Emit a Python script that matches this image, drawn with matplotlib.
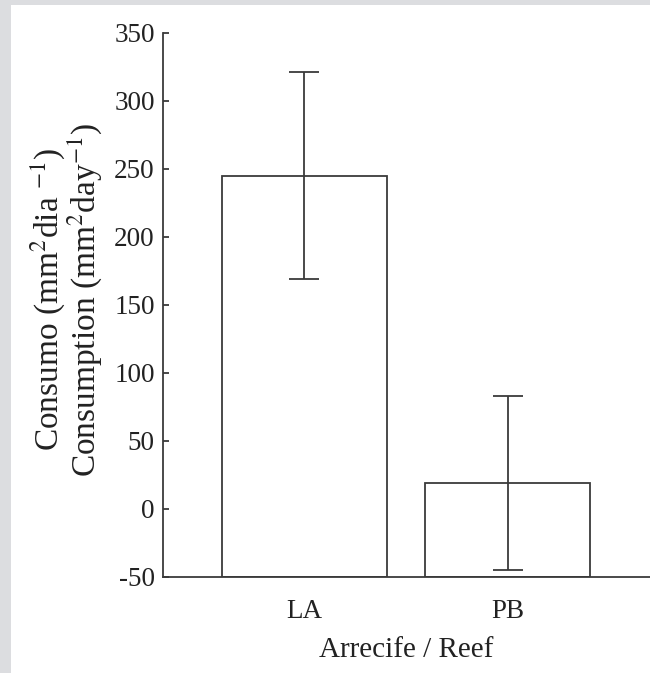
import matplotlib
matplotlib.use('Agg')
import matplotlib.pyplot as plt
from matplotlib.patches import Rectangle

# data
reefs = ['LA', 'PB']
consumption = [245, 19]
errors = [76, 64]
yticks = [-50, 0, 50, 100, 150, 200, 250, 300, 350]

plt.rcParams['font.family'] = ['Liberation Serif', 'DejaVu Serif']
plt.rcParams['mathtext.fontset'] = 'stix'

W, H = 650, 673
fig = plt.figure(figsize=(W / 100, H / 100), dpi=100)

# grey page margin on the left and top
fig.patches.append(Rectangle((0, 0), 11 / W, 1, transform=fig.transFigure,
                             facecolor='#dcdde0', edgecolor='none', zorder=-1))
fig.patches.append(Rectangle((0, 1 - 5 / H), 1, 5 / H, transform=fig.transFigure,
                             facecolor='#dcdde0', edgecolor='none', zorder=-1))

ax = fig.add_axes([163 / W, 1 - 577 / H, 1 - 163 / W, (577 - 33) / H])

line_col = '#3a3a3a'
x = range(len(reefs))
ax.bar(x, [c + 50 for c in consumption], bottom=-50, width=0.81,
       facecolor='white', edgecolor=line_col, linewidth=1.3)
ax.errorbar(x, consumption, yerr=errors, fmt='none', ecolor=line_col,
            elinewidth=1.3, capsize=11, capthick=1.3)

ax.set_ylim(-50, 350)
ax.set_xlim(-0.695, 1.70)
ax.set_yticks(yticks)
ax.set_yticklabels([str(t) for t in yticks])
ax.set_xticks(list(x))
ax.set_xticklabels(reefs)

for s in ['top', 'right']:
    ax.spines[s].set_visible(False)
for s in ['left', 'bottom']:
    ax.spines[s].set_color(line_col)
    ax.spines[s].set_linewidth(1.3)

ax.tick_params(axis='y', direction='in', length=4, width=1.3, color=line_col,
               labelsize=19.5, pad=6, labelcolor='#222222')
ax.tick_params(axis='x', length=0, labelsize=19.5, pad=16, labelcolor='#222222')

ax.set_xlabel('Arrecife / Reef', fontsize=21, color='#222222', labelpad=9)
ax.set_ylabel('Consumo (mm$^2$dia $^{\\mathrm{-1}}$)\nConsumption (mm$^2$day$^{\\mathrm{-1}}$)',
              fontsize=24, color='#222222', linespacing=0.92)
ax.yaxis.set_label_coords(-0.122, 0.51)

fig.savefig('out.png', dpi=100)
